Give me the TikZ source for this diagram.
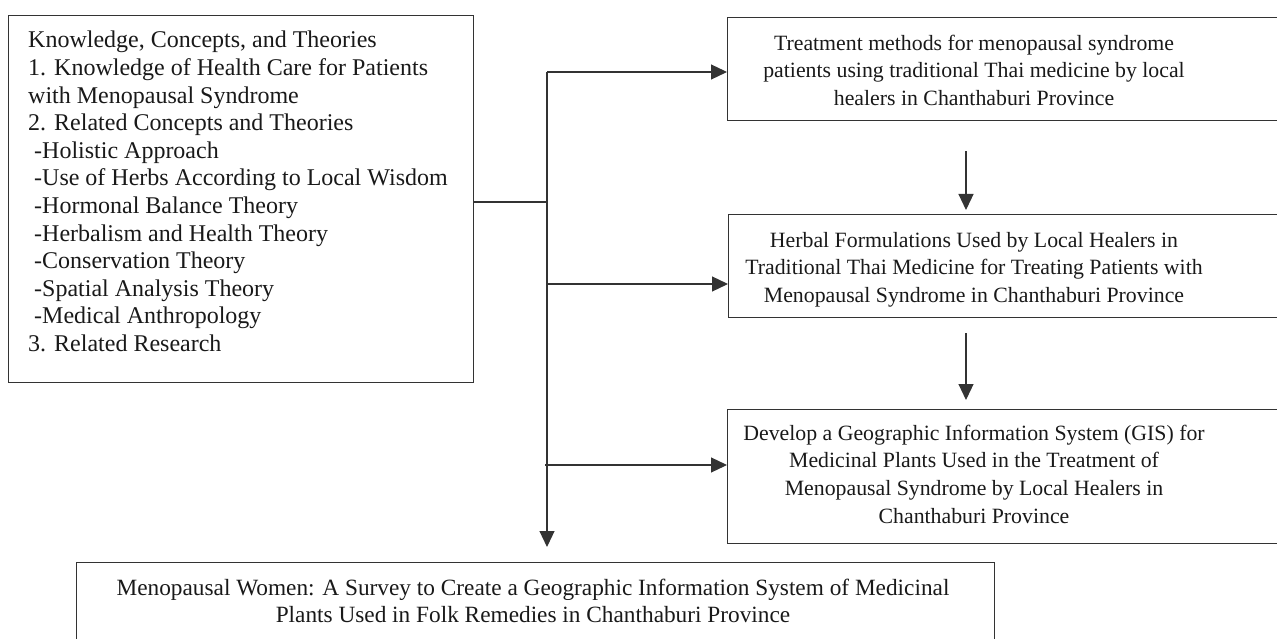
\documentclass[tikz,border=0pt]{standalone}
\usepackage{fontspec}
\setmainfont{Liberation Serif}
\usetikzlibrary{arrows.meta}
\begin{document}
\begin{tikzpicture}[x=1pt,y=-1pt,
  box/.style={draw=black!80, line width=1.3pt, rectangle, anchor=north west, inner sep=0pt},
  txt/.style={font=\fontsize{24}{27.6}\selectfont, inner sep=0pt, text=black!90},
  rtxt/.style={txt, font=\fontsize{21.8}{27.6}\selectfont, anchor=north, align=center},
  link/.style={draw=black!80, line width=1.2pt},
  arr/.style={link, -{Triangle[length=16pt,width=15pt]}}]
\clip (0,0) rectangle (1277,639);
% boxes
\node[box, minimum width=465pt, minimum height=367pt] (lbox) at (8,15) {};
\node[box, minimum width=580pt, minimum height=103pt] (b1) at (727,17) {};
\node[box, minimum width=580pt, minimum height=103pt] (b2) at (728,214) {};
\node[box, minimum width=580pt, minimum height=134pt] (b3) at (727,409) {};
\node[box, minimum width=918pt, minimum height=150pt] (b4) at (76,562) {};
% texts
\node[txt, anchor=north west, align=left] (ltxt) at (28,28.4) {\strut Knowledge, Concepts, and Theories\\
\strut 1. Knowledge of Health Care for Patients\\
\strut with Menopausal Syndrome\\
\strut 2. Related Concepts and Theories\\
\strut\hspace*{6pt}-Holistic Approach\\
\strut\hspace*{6pt}-Use of Herbs According to Local Wisdom\\
\strut\hspace*{6pt}-Hormonal Balance Theory\\
\strut\hspace*{6pt}-Herbalism and Health Theory\\
\strut\hspace*{6pt}-Conservation Theory\\
\strut\hspace*{6pt}-Spatial Analysis Theory\\
\strut\hspace*{6pt}-Medical Anthropology\\
\strut 3. Related Research};
\node[rtxt] (t1) at (974,30.7) {\strut Treatment methods for menopausal syndrome\\
\strut patients using traditional Thai medicine by local\\
\strut healers in Chanthaburi Province};
\node[rtxt] (t2) at (974,227.7) {\strut Herbal Formulations Used by Local Healers in\\
\strut Traditional Thai Medicine for Treating Patients with\\
\strut Menopausal Syndrome in Chanthaburi Province};
\node[rtxt] (t3) at (974,420.7) {\strut Develop a Geographic Information System (GIS) for\\
\strut Medicinal Plants Used in the Treatment of\\
\strut Menopausal Syndrome by Local Healers in\\
\strut Chanthaburi Province};
\node[txt, font=\fontsize{23.3}{27.6}\selectfont, anchor=north, align=center] (t4) at (533,575.7) {\strut Menopausal Women: A Survey to Create a Geographic Information System of Medicinal\\
\strut Plants Used in Folk Remedies in Chanthaburi Province};
% connector coordinates
\coordinate (j) at (547,202);
\coordinate (c1) at (547,72);
\coordinate (c2) at (547,284);
\coordinate (c3) at (545,465);
\coordinate (dn) at (547,547);
\coordinate (vx) at (966,0);
% connectors
\draw[link] (lbox.east |- j) -- (j);
\draw[arr] (c1) -- (dn);
\draw[arr] (c1) -- (c1 -| b1.west);
\draw[arr] (c2) -- (c2 -| b2.west);
\draw[arr] (c3) -- (c3 -| b3.west);
\draw[arr, shorten <=30pt, shorten >=4pt] (b1.south -| vx) -- (b2.north -| vx);
\draw[arr, shorten <=15pt, shorten >=9pt] (b2.south -| vx) -- (b3.north -| vx);
\end{tikzpicture}
\end{document}
